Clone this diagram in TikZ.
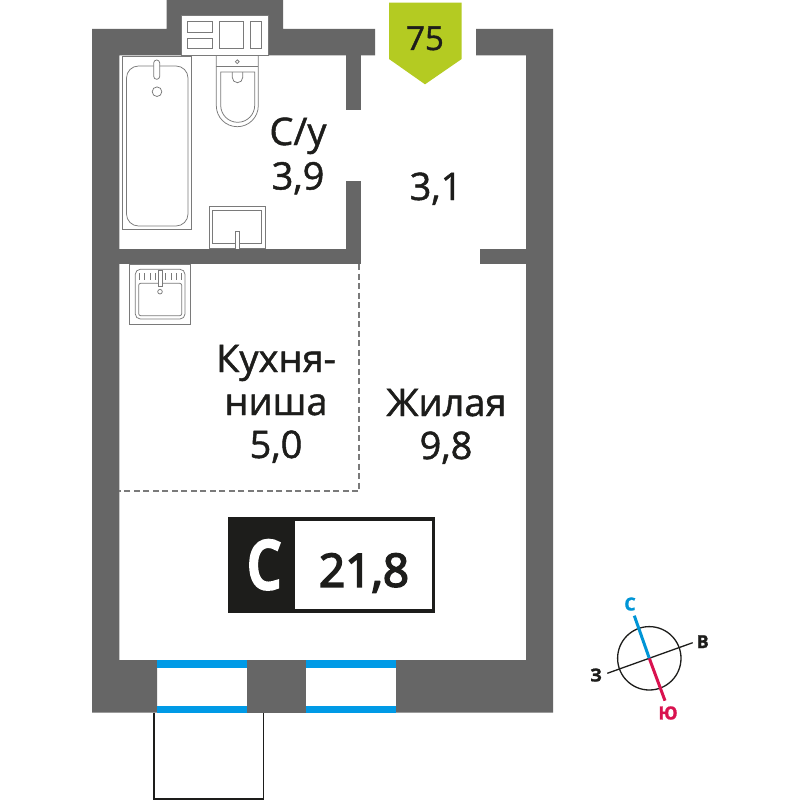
\documentclass[tikz,border=0pt]{standalone}
\usepackage{fontspec}
\setmainfont[FakeBold=1.2]{Open Sans}
\newfontfamily\semi[FakeBold=3.5]{Open Sans}
\newfontfamily\typf[FakeBold=7,FakeStretch=0.76]{Open Sans}
\definecolor{wallc}{HTML}{666666}
\definecolor{fixc}{HTML}{7A7A7A}
\definecolor{inkc}{HTML}{1D1D1B}
\definecolor{bluec}{HTML}{009AE6}
\definecolor{greenc}{HTML}{B4CB22}
\definecolor{compblue}{HTML}{0095D6}
\definecolor{compred}{HTML}{D9124F}
\tikzset{
  wall/.style={fill=wallc,draw=none},
  fix/.style={draw=fixc,line width=0.75pt,fill=white},
  fixn/.style={draw=fixc,line width=0.75pt},
  glass/.style={fill=bluec,draw=none},
  lab/.style={inner sep=0pt,anchor=base,font=\fontsize{38}{38}\selectfont,text=inkc},
  cmp/.style={inner sep=0pt,font=\fontsize{18}{18}\selectfont\bfseries}
}
\begin{document}
\begin{tikzpicture}[x=1pt,y=-1pt]
\useasboundingbox (0,0) rectangle (800,800);
\fill[white] (0,0) rectangle (800,800);
% walls
\fill[wall] (92,29) -- (166.7,29) -- (166.7,0) -- (283,0) -- (283,29) -- (375,29) -- (375,55.3) -- (119.3,55.3) -- (119.3,660) -- (157,660) -- (157,712.7) -- (92,712.7) -- cycle;
\fill[wall] (476,29) -- (553,29) -- (553,712.7) -- (396,712.7) -- (396,660) -- (526,660) -- (526,55.3) -- (476,55.3) -- cycle;
\fill[wall] (247,660) rectangle (306,712.7);
\fill[wall] (346,55) rectangle (360.7,110);
\fill[wall] (346,181) rectangle (360.7,263.5);
\fill[wall] (119,249) rectangle (360.7,263.5);
\fill[wall] (480,249) rectangle (527,263.5);
% windows
\fill[glass] (157,660) rectangle (247,668);
\fill[glass] (157,705.7) rectangle (247,712.7);
\fill[glass] (306,660) rectangle (396,668);
\fill[glass] (306,705.7) rectangle (396,712.7);
% balcony
\draw[inkc,line width=1.4pt] (154,712.7) -- (154,799) -- (263.3,799) -- (263.3,712.7);
% vent
\draw[fix] (181.7,15) rectangle (268,55.3);
\draw[fixn] (187.7,21.7) rectangle (212.3,32);
\draw[fixn] (187.7,38.3) rectangle (212.3,48.7);
\draw[fixn] (219,21.7) rectangle (243.7,48.7);
\draw[fixn] (250.3,21.7) rectangle (261.7,48.7);
% bath
\draw[fix] (122.7,56.7) rectangle (191,229.7);
\draw[fixn,rounded corners=12pt] (126.5,66) rectangle (188,226);
\draw[fix,rounded corners=2.9pt] (153.7,60) rectangle (159.7,79.3);
\draw[fixn] (157,91.7) circle[radius=4.8];
% toilet
\draw[fixn] (216.3,56) -- (216.3,105.7) arc[start angle=180,end angle=0,x radius=21,y radius=21] -- (258.3,56);
\draw[fixn] (216.3,66) -- (258.3,66);
\draw[fixn] (237.3,61.7) circle[radius=1.9];
\draw[fixn] (220.7,72) -- (220.7,105.3) arc[start angle=180,end angle=0,x radius=17,y radius=17] -- (254.7,72) -- cycle;
\draw[fixn] (232.3,72) -- (232.3,77.5) arc[start angle=180,end angle=0,x radius=5.2,y radius=5.2] -- (242.7,72);
% bathroom sink
\draw[fixn] (209.3,206.3) rectangle (265.3,248.7);
\draw[fixn] (212.3,210) rectangle (261.7,243.3);
\draw[fix] (235.3,248.7) -- (235.3,231.3) -- (239.3,231.3) -- (239.3,248.7);
% kitchen sink
\draw[fixn] (129.3,264) rectangle (190.7,324.7);
\draw[fixn,rounded corners=5pt] (135.3,269.3) rectangle (185,319);
\draw[fixn,rounded corners=2pt] (138.7,283.3) rectangle (181.7,315.7);
\foreach \tx in {139.3,144.7,150,155,165.7,171,176.3,181.7}
  \draw[fixn] (\tx,273) -- (\tx,280);
\draw[fix] (158.3,270) rectangle (162,286.7);
\draw[fixn] (160,291.7) circle[radius=2.3];
% kitchen boundary
\draw[fixc,line width=1.3pt,dash pattern=on 6pt off 3.5pt] (359,264) -- (359,491) -- (119.3,491);
% door tag
\fill[greenc] (389,2.7) -- (461.7,2.7) -- (461.7,59) -- (425,84.3) -- (389,59) -- cycle;
\node[lab,font=\fontsize{33}{33}\selectfont] (tag) at (425,50) {75};
% room labels
\node[lab] (bathname) at (298,145) {С/у};
\node[lab] (batharea) at (298,189.5) {3,9};
\node[lab] (hallarea) at (436,200) {3,1};
\node[lab] (kit1) at (276,372) {Кухня-};
\node[lab] (kit2) at (276,415) {ниша};
\node[lab] (kit3) at (276,458) {5,0};
\node[lab] (liv1) at (446.5,416) {Жилая};
\node[lab] (liv2) at (446,459) {9,8};
% badge
\fill[inkc] (227.7,517.3) rectangle (435,612.7);
\fill[white] (295.3,520.7) rectangle (432,609.3);
\node[lab,font=\fontsize{65}{65}\selectfont\typf,text=white] (typ) at (264,588) {С};
\node[lab,font=\fontsize{46}{46}\selectfont\semi] (total) at (364,586.7) {21,8};
% compass
\coordinate (cc) at (649.3,658.3);
\coordinate (cn) at (634.3,615.7);
\coordinate (cs) at (665,700.7);
\coordinate (cw) at (607.3,673.3);
\coordinate (ce) at (692.7,642.7);
\draw[inkc,line width=1.3pt] (cc) circle[radius=31.7];
\draw[inkc,line width=1.3pt] (cw) -- (ce);
\draw[compblue,line width=3pt] (cn) -- (cc);
\draw[compred,line width=3pt] (cc) -- (cs);
\node[cmp,text=compblue] (ln) at (630,604) {С};
\node[cmp,text=inkc] (le) at (702.7,641.7) {В};
\node[cmp,text=inkc] (lw) at (596,675) {З};
\node[cmp,text=compred] (ls) at (668,713) {Ю};
\end{tikzpicture}
\end{document}
